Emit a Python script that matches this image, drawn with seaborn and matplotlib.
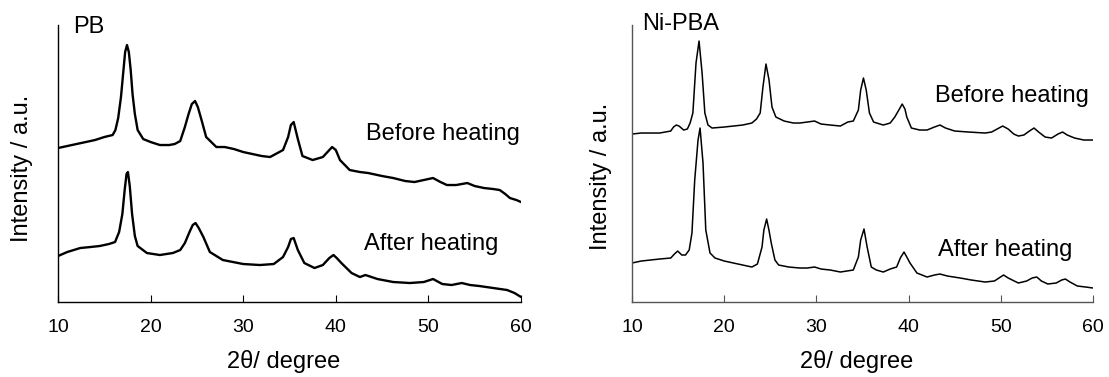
import matplotlib
matplotlib.use("Agg")
import matplotlib.pyplot as plt
import seaborn as sns
import numpy as np

# ---- data (intensity in arbitrary units) ----
pb_tt_before = [10.0, 11.0, 12.0, 13.0, 14.0, 15.0, 15.9, 16.2, 16.5, 16.8, 17.05, 17.25, 17.45, 17.65,
                17.85, 18.05, 18.3, 18.6, 19.2, 20.0, 21.0, 22.0, 22.6, 23.2, 23.7, 24.1, 24.45, 24.8,
                25.1, 25.5, 26.0, 27.1, 28.0, 29.0, 30.0, 31.0, 32.0, 32.9, 33.5, 34.3, 34.85, 35.15,
                35.45, 35.9, 36.4, 37.5, 38.6, 39.2, 39.6, 40.0, 40.45, 41.5, 42.6, 43.5, 45.0, 46.2,
                47.5, 48.5, 49.5, 50.5, 51.3, 52.0, 53.0, 54.2, 55.0, 56.0, 57.0, 57.7, 58.3, 58.8,
                59.5, 60.0]
pb_before = [154, 156, 158, 160, 162, 165, 167, 172, 184, 205, 230, 250, 257, 250,
             232, 208, 188, 172, 163, 160, 157, 157, 158, 161, 175, 188, 198, 201,
             195, 182, 165, 155, 155, 153, 150, 148, 146, 145, 148, 152, 165, 177,
             180, 163, 146, 142, 145, 151, 155, 152, 142, 132, 130, 129, 126, 124,
             121, 120, 122, 124, 120, 117, 117, 119, 116, 114, 113, 112, 108, 104,
             102, 100]

pb_tt_after = [10.0, 11.0, 12.4, 13.5, 14.5, 15.5, 16.16, 16.6, 16.95, 17.2, 17.4, 17.55, 17.75, 18.0,
               18.3, 18.6, 19.6, 21.0, 22.4, 23.2, 23.7, 24.2, 24.55, 24.85, 25.2, 25.7, 26.4, 27.8,
               28.9, 30.0, 31.8, 33.3, 34.3, 34.85, 35.15, 35.45, 35.9, 36.6, 37.7, 38.6, 39.3,
               39.75, 40.1, 40.6, 41.7, 42.6, 43.2, 44.5, 46.2, 48.0, 49.5, 50.5, 51.5, 52.5, 53.6,
               54.5, 55.5, 57.0, 58.5, 59.3, 60.0]
pb_after = [46, 50, 54, 55, 56, 58, 60, 70, 88, 112, 128, 130, 116, 88,
            66, 56, 49, 47, 49, 52, 59, 70, 77, 79, 74, 65, 50, 42,
            40, 38, 37, 38, 45, 55, 63, 64, 52, 39, 34, 37, 44,
            47, 44, 39, 29, 25, 27, 23, 20, 19, 20, 23, 18, 17, 19,
            17, 16, 14, 12, 9, 5]

ni_tt_before = [10.0, 11.0, 13.0, 14.2, 14.5, 14.8, 15.1, 15.6, 16.0, 16.3, 16.6, 16.94, 17.27, 17.6,
                17.9, 18.24, 18.68, 20.0, 21.0, 22.0, 23.0, 23.5, 23.9, 24.2, 24.53, 24.86, 25.18,
                25.6, 26.5, 27.5, 28.2, 29.0, 29.8, 30.5, 31.5, 32.6, 33.4, 34.0, 34.55, 34.8, 35.1,
                35.4, 35.75, 36.2, 37.25, 38.0, 38.5, 39.0, 39.3, 39.6, 39.8, 40.3, 41.2, 42.0, 42.8,
                43.4, 44.0, 45.0, 46.5, 48.3, 49.0, 49.6, 50.2, 50.8, 51.4, 51.9, 52.5, 53.1, 53.6,
                54.1, 54.8, 55.5, 56.2, 56.7, 57.2, 58.0, 59.0, 60.0]
ni_before = [168, 169, 169, 171, 175, 177, 176, 172, 173, 179, 189, 239, 261, 229,
             189, 177, 174, 175, 176, 177, 179, 183, 189, 215, 238, 222, 195,
             185, 181, 179, 179, 180, 181, 178, 177, 176, 180, 181, 192, 212, 224,
             212, 189, 180, 177, 179, 185, 193, 198, 193, 185, 174, 172, 172, 175,
             177, 174, 171, 170, 169, 170, 173, 176, 173, 168, 166, 167, 171, 174,
             170, 165, 164, 168, 170, 167, 164, 162, 162]

ni_tt_after = [10.0, 11.0, 13.0, 14.2, 14.6, 14.95, 15.4, 15.8, 16.2, 16.5, 16.8, 17.16, 17.38, 17.7,
               18.0, 18.46, 19.0, 20.0, 21.0, 22.0, 23.0, 23.6, 24.1, 24.3, 24.6, 24.85, 25.1, 25.5,
               25.9, 27.0, 28.2, 29.0, 29.8, 30.5, 31.5, 32.6, 34.0, 34.55, 34.8, 35.16, 35.5,
               35.95, 36.5, 37.25, 38.0, 38.7, 39.1, 39.5, 39.8, 40.15, 40.9, 42.0, 42.8, 43.4,
               44.2, 45.6, 46.8, 48.3, 49.3, 49.8, 50.3, 50.8, 51.9, 52.8, 53.4, 53.9, 54.4, 55.1,
               56.0, 56.6, 57.0, 57.5, 58.3, 59.2, 60.0]
ni_after = [39, 41, 43, 44, 48, 51, 47, 47, 52, 69, 122, 162, 174, 139,
            72, 49, 44, 41, 39, 37, 35, 38, 55, 72, 83, 72, 59, 42,
            37, 35, 34, 34, 35, 33, 32, 30, 32, 45, 62, 73, 55,
            35, 32, 30, 33, 35, 44, 50, 45, 39, 29, 25, 27, 28,
            26, 24, 22, 20, 21, 24, 27, 24, 19, 21, 24, 25, 21, 18,
            19, 22, 23, 20, 16, 15, 14]

panel_titles = ["PB", "Ni-PBA"]
x_ticks = [10, 20, 30, 40, 50, 60]

sns.set_style("ticks")
plt.rcParams['font.family'] = ['Liberation Sans', 'DejaVu Sans']
plt.rcParams['text.color'] = 'black'
plt.rcParams['axes.labelcolor'] = 'black'
plt.rcParams['xtick.color'] = 'black'
plt.rcParams['xtick.labelcolor'] = 'black'

fig = plt.figure(figsize=(11.09, 3.77), dpi=100)
ax1 = fig.add_axes([0.0523, 0.1989, 0.4175, 0.7347])
ax2 = fig.add_axes([0.5699, 0.1989, 0.4157, 0.7347])

panels = [
    (ax1, pb_tt_before, pb_before, pb_tt_after, pb_after, 1.7, "black"),
    (ax2, ni_tt_before, ni_before, ni_tt_after, ni_after, 1.1, "#555555"),
]

for ax, xb, yb, xa, ya, lw, spine_col in panels:
    sns.lineplot(x=xb, y=yb, ax=ax, color="black", lw=lw, estimator=None, sort=False)
    sns.lineplot(x=xa, y=ya, ax=ax, color="black", lw=lw, estimator=None, sort=False)
    ax.set_xlim(10, 60)
    ax.set_ylim(0, 277)
    ax.set_xticks(x_ticks)
    ax.set_yticks([])
    ax.tick_params(axis="x", direction="in", length=5, labelsize=14, pad=12,
                   color=spine_col, labelcolor="black")
    for side in ["top", "right"]:
        ax.spines[side].set_visible(False)
    for side in ["left", "bottom"]:
        ax.spines[side].set_color(spine_col)
        ax.spines[side].set_linewidth(1.0)
    ax.set_xlabel("2θ/ degree", fontsize=17, color="black")
    ax.xaxis.set_label_coords(0.487, -0.213)
    ax.xaxis.label.set_verticalalignment("center")
    ax.set_ylabel("Intensity / a.u.", fontsize=17, color="black")
    ax.yaxis.label.set_verticalalignment("center")

ax1.yaxis.set_label_coords(-0.078, 0.482)
ax2.yaxis.set_label_coords(-0.067, 0.453)

ax1.text(0.032, 0.971, panel_titles[0], transform=ax1.transAxes, fontsize=17, va="baseline", ha="left")
ax2.text(0.022, 0.982, panel_titles[1], transform=ax2.transAxes, fontsize=17, va="baseline", ha="left")

ax1.text(59.9, 162, "Before heating", fontsize=17, ha="right", va="baseline")
ax1.text(43.05, 52, "After heating", fontsize=17, ha="left", va="baseline")
ax2.text(42.9, 200, "Before heating", fontsize=17, ha="left", va="baseline")
ax2.text(43.2, 46, "After heating", fontsize=17, ha="left", va="baseline")

fig.savefig("out.png", dpi=100)
